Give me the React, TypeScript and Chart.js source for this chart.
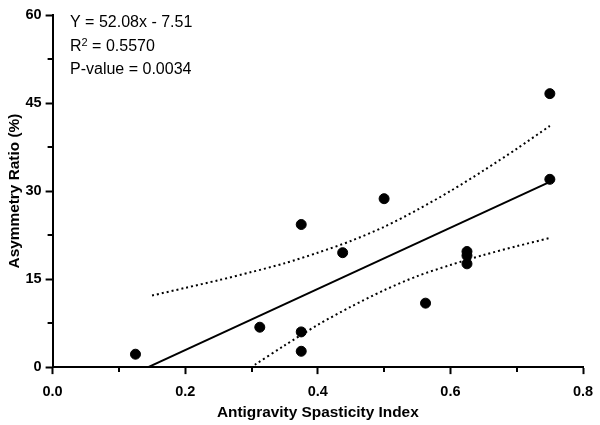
import React, { useEffect, useRef } from "react";
import { Chart, registerables } from "chart.js";

Chart.register(...registerables);

// Observed points (Antigravity Spasticity Index, Asymmetry Ratio %)
const pointX = [0.125, 0.3125, 0.375, 0.375, 0.375, 0.4375, 0.5, 0.5625, 0.625, 0.625, 0.625, 0.75, 0.75];
const pointY = [2.2, 6.8, 6.0, 2.7, 24.3, 19.5, 28.7, 10.9, 19.7, 19.0, 17.6, 46.6, 32.0];

// Regression line endpoints
const fitX = [0.1442, 0.75];
const fitY = [0.0, 31.55];

// Upper 95% confidence band
const upperX = [0.15, 0.2, 0.25, 0.3, 0.35, 0.4, 0.45, 0.5, 0.55, 0.6, 0.65, 0.7, 0.75];
const upperY = [12.2, 13.5, 14.8, 16.2, 17.7, 19.5, 21.5, 23.9, 26.8, 30.0, 33.5, 37.2, 41.1];

// Lower 95% confidence band
const lowerX = [0.305, 0.35, 0.4, 0.45, 0.5, 0.55, 0.6, 0.65, 0.7, 0.75];
const lowerY = [0.4, 3.7, 7.2, 10.3, 13.1, 15.5, 17.4, 19.1, 20.6, 22.0];

// Minor tick positions
const minorXTicks = [0.1, 0.3, 0.5, 0.7];
const minorYTicks = [7.5, 22.5, 37.5, 52.5];

const statLines = ["Y = 52.08x - 7.51", "R", "2", " = 0.5570", "P-value = 0.0034"];

const xTitle = "Antigravity Spasticity Index";
const yTitle = "Asymmetry Ratio (%)";

const FONT = '"Liberation Sans", Arial, Helvetica, sans-serif';

const zip = (xs: number[], ys: number[]) => xs.map((x, i) => ({ x, y: ys[i] }));

const extrasPlugin = {
  id: "extras",
  afterDraw(chart: any) {
    const ctx = chart.ctx;
    const xs = chart.scales.x;
    const ys = chart.scales.y;
    const area = chart.chartArea;
    ctx.save();
    // minor ticks
    ctx.strokeStyle = "#000";
    ctx.lineWidth = 2;
    ctx.beginPath();
    for (const v of minorXTicks) {
      const px = Math.round(xs.getPixelForValue(v));
      ctx.moveTo(px, area.bottom);
      ctx.lineTo(px, area.bottom + 5);
    }
    for (const v of minorYTicks) {
      const py = Math.round(ys.getPixelForValue(v));
      ctx.moveTo(area.left, py);
      ctx.lineTo(area.left - 5, py);
    }
    ctx.stroke();

    // statistics text
    ctx.fillStyle = "#000";
    ctx.textBaseline = "alphabetic";
    ctx.textAlign = "left";
    const x0 = 70;
    ctx.font = `16px ${FONT}`;
    ctx.fillText(statLines[0], x0, 27);
    ctx.fillText(statLines[1], x0, 51);
    const rw = ctx.measureText(statLines[1]).width;
    ctx.font = `11px ${FONT}`;
    ctx.fillText(statLines[2], x0 + rw, 46);
    const sw = ctx.measureText(statLines[2]).width;
    ctx.font = `16px ${FONT}`;
    ctx.fillText(statLines[3], x0 + rw + sw, 51);
    ctx.fillText(statLines[4], x0, 74);
    ctx.restore();
  },
};

export default function App() {
  const ref = useRef<HTMLCanvasElement | null>(null);

  useEffect(() => {
    if (!ref.current) return;
    const chart = new Chart(ref.current, {
      type: "scatter",
      data: {
        datasets: [
          {
            label: "Data",
            data: zip(pointX, pointY),
            backgroundColor: "#000",
            borderColor: "#000",
            pointRadius: 5,
            pointHoverRadius: 5,
          },
          {
            label: "Fit",
            data: zip(fitX, fitY),
            showLine: true,
            borderColor: "#000",
            borderWidth: 2,
            pointRadius: 0,
          },
          {
            label: "Upper",
            data: zip(upperX, upperY),
            showLine: true,
            borderColor: "#000",
            borderWidth: 2,
            borderDash: [2, 3],
            pointRadius: 0,
            tension: 0.3,
          },
          {
            label: "Lower",
            data: zip(lowerX, lowerY),
            showLine: true,
            borderColor: "#000",
            borderWidth: 2,
            borderDash: [2, 3],
            pointRadius: 0,
            tension: 0.3,
          },
        ],
      },
      options: {
        animation: false,
        responsive: false,
        layout: { padding: { left: 6, right: 17, top: 15, bottom: 3 } },
        plugins: {
          legend: { display: false },
          tooltip: { enabled: false },
          title: { display: false },
        },
        scales: {
          x: {
            type: "linear",
            min: 0,
            max: 0.8,
            afterFit: (scale: any) => {
              scale.paddingRight = 0;
            },
            ticks: {
              stepSize: 0.2,
              color: "#000",
              font: { family: FONT, size: 14.5, weight: "bold" },
              padding: 9,
              maxRotation: 0,
              autoSkip: false,
              callback: (v: any) => Number(v).toFixed(1),
            },
            grid: {
              display: true,
              drawOnChartArea: false,
              drawTicks: true,
              tickLength: 7,
              tickColor: "#000",
              tickWidth: 2,
            },
            border: { display: true, color: "#000", width: 2 },
            title: {
              display: true,
              text: xTitle,
              color: "#000",
              font: { family: FONT, size: 15.4, weight: "bold" },
              padding: { top: -6, bottom: 0 },
            },
          },
          y: {
            type: "linear",
            min: 0,
            max: 60,
            ticks: {
              stepSize: 15,
              color: "#000",
              font: { family: FONT, size: 14.5, weight: "bold" },
              padding: 4,
              autoSkip: false,
              callback: (v: any) => String(Number(v)),
            },
            grid: {
              display: true,
              drawOnChartArea: false,
              drawTicks: true,
              tickLength: 7,
              tickColor: "#000",
              tickWidth: 2,
            },
            border: { display: true, color: "#000", width: 2 },
            title: {
              display: true,
              text: yTitle,
              color: "#000",
              font: { family: FONT, size: 15.4, weight: "bold" },
              padding: { top: 0, bottom: -3 },
            },
          },
        },
      },
      plugins: [extrasPlugin],
    } as any);
    return () => chart.destroy();
  }, []);

  return (
    <div style={{ position: "absolute", left: 0, top: 0, width: 600, height: 425, background: "#fff" }}>
      <canvas ref={ref} width={600} height={425} />
    </div>
  );
}
